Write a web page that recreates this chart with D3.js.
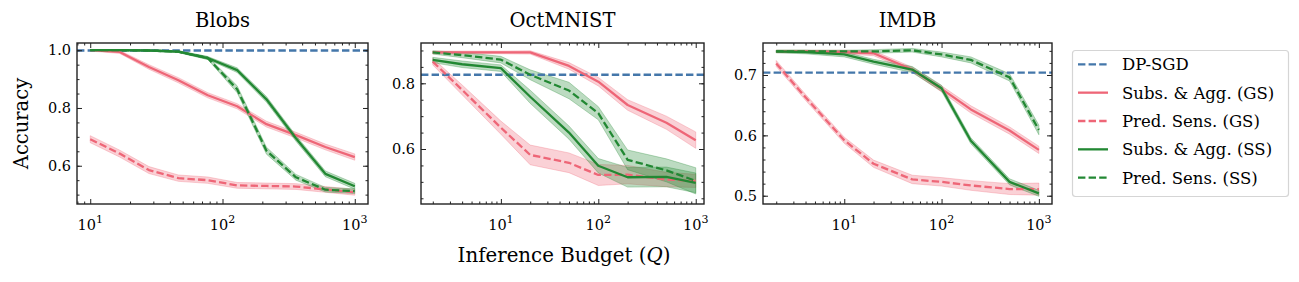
<!DOCTYPE html>
<html lang="en">
<head>
  <meta charset="UTF-8">
  <title>Accuracy vs Inference Budget</title>
  <script src="https://d3js.org/d3.v7.min.js"></script>
  <style>
    body { margin: 0; background: #fff; }
    svg text { font-family: "DejaVu Serif", serif; fill: #000; }
  </style>
</head>
<body>
<script>
  // query budgets
  const blobsQ = [10, 16.7, 27.8, 46.4, 77.4, 129, 215, 359, 599, 1000]
  const budgetQ = [2, 4, 10, 20, 50, 100, 200, 500, 1000]

  // Blobs
  const blobsDpSgd = 0.999
  const blobsSubsAggGS = [1.0, 0.994, 0.942, 0.896, 0.844, 0.806, 0.744, 0.706, 0.665, 0.630]
  const blobsPredSensGS = [0.692, 0.642, 0.585, 0.557, 0.550, 0.532, 0.530, 0.528, 0.518, 0.508]
  const blobsSubsAggSS = [1.0, 1.0, 0.999, 0.995, 0.973, 0.931, 0.830, 0.695, 0.572, 0.529]
  const blobsPredSensSS = [1.0, 1.0, 0.999, 0.995, 0.973, 0.865, 0.652, 0.560, 0.517, 0.512]
  const blobsSubsAggGSErr = [0.003, 0.005, 0.008, 0.009, 0.009, 0.009, 0.010, 0.010, 0.010, 0.011]
  const blobsPredSensGSErr = [0.012, 0.012, 0.012, 0.011, 0.011, 0.010, 0.010, 0.010, 0.010, 0.010]
  const blobsSubsAggSSErr = [0.001, 0.001, 0.002, 0.003, 0.005, 0.008, 0.010, 0.010, 0.010, 0.010]
  const blobsPredSensSSErr = [0.001, 0.001, 0.002, 0.003, 0.005, 0.012, 0.012, 0.010, 0.008, 0.008]

  // OctMNIST
  const octDpSgd = 0.826
  const octSubsAggGS = [0.894, 0.894, 0.894, 0.894, 0.853, 0.805, 0.734, 0.680, 0.627]
  const octPredSensGS = [0.866, 0.780, 0.665, 0.582, 0.558, 0.521, 0.522, 0.507, 0.503]
  const octSubsAggSS = [0.871, 0.858, 0.846, 0.759, 0.650, 0.549, 0.514, 0.515, 0.497]
  const octPredSensSS = [0.894, 0.886, 0.872, 0.826, 0.778, 0.709, 0.567, 0.535, 0.503]
  const octSubsAggGSErr = [0.004, 0.004, 0.004, 0.005, 0.010, 0.013, 0.016, 0.020, 0.025]
  const octPredSensGSErr = [0.010, 0.015, 0.020, 0.030, 0.030, 0.032, 0.028, 0.022, 0.020]
  const octSubsAggSSErr = [0.008, 0.010, 0.010, 0.020, 0.020, 0.022, 0.030, 0.030, 0.030]
  const octPredSensSSErr = [0.005, 0.008, 0.010, 0.015, 0.025, 0.020, 0.030, 0.035, 0.040]

  // IMDB
  const imdbDpSgd = 0.704
  const imdbSubsAggGS = [0.739, 0.739, 0.738, 0.736, 0.709, 0.677, 0.643, 0.608, 0.576]
  const imdbPredSensGS = [0.719, 0.663, 0.592, 0.553, 0.527, 0.523, 0.517, 0.511, 0.511]
  const imdbSubsAggSS = [0.739, 0.738, 0.734, 0.722, 0.709, 0.678, 0.591, 0.523, 0.504]
  const imdbPredSensSS = [0.739, 0.739, 0.739, 0.739, 0.741, 0.734, 0.725, 0.696, 0.609]
  const imdbSubsAggGSErr = [0.002, 0.002, 0.003, 0.004, 0.004, 0.005, 0.006, 0.006, 0.006]
  const imdbPredSensGSErr = [0.005, 0.005, 0.005, 0.006, 0.007, 0.007, 0.008, 0.009, 0.010]
  const imdbSubsAggSSErr = [0.002, 0.003, 0.004, 0.004, 0.005, 0.005, 0.005, 0.005, 0.005]
  const imdbPredSensSSErr = [0.002, 0.002, 0.002, 0.003, 0.003, 0.004, 0.005, 0.006, 0.008]

  const legendLabels = ['DP-SGD', 'Subs. & Agg. (GS)', 'Pred. Sens. (GS)', 'Subs. & Agg. (SS)', 'Pred. Sens. (SS)']

  const blue = '#4477AA', red = '#EE6677', green = '#228833'
  const dash = '7.4,3.2'
  const lw = 2.3

  const panels = [
    { title: 'Blobs', q: blobsQ, dp: blobsDpSgd,
      series: [blobsSubsAggGS, blobsPredSensGS, blobsSubsAggSS, blobsPredSensSS],
      errs: [blobsSubsAggGSErr, blobsPredSensGSErr, blobsSubsAggSSErr, blobsPredSensSSErr],
      left: 77, right: 368, xdom: [0.9, 3.1], ydom: [0.4675, 1.025],
      yticks: [0.6, 0.8, 1.0], ystep: 0.05 },
    { title: 'OctMNIST', q: budgetQ, dp: octDpSgd,
      series: [octSubsAggGS, octPredSensGS, octSubsAggSS, octPredSensSS],
      errs: [octSubsAggGSErr, octPredSensGSErr, octSubsAggSSErr, octPredSensSSErr],
      left: 421, right: 704, xdom: [0.18, 3.085], ydom: [0.4326, 0.9227],
      yticks: [0.6, 0.8], ystep: 0.05 },
    { title: 'IMDB', q: budgetQ, dp: imdbDpSgd,
      series: [imdbSubsAggGS, imdbPredSensGS, imdbSubsAggSS, imdbPredSensSS],
      errs: [imdbSubsAggGSErr, imdbPredSensGSErr, imdbSubsAggSSErr, imdbPredSensSSErr],
      left: 763, right: 1052, xdom: [0.165, 3.135], ydom: [0.4863, 0.753],
      yticks: [0.5, 0.6, 0.7], ystep: 0.02 },
  ]

  const styles = [
    { color: red, dash: null },
    { color: red, dash: dash },
    { color: green, dash: null },
    { color: green, dash: dash },
  ]

  const plotTop = 43, plotBottom = 204

  const svg = d3.select('body').append('svg')
    .attr('width', 1299)
    .attr('height', 282)

  panels.forEach(p => {
    const x = d3.scaleLog()
      .domain([Math.pow(10, p.xdom[0]), Math.pow(10, p.xdom[1])])
      .range([p.left, p.right])
    const y = d3.scaleLinear().domain(p.ydom).range([plotBottom, plotTop])

    const g = svg.append('g')

    const clipId = 'clip-' + p.title
    svg.append('clipPath').attr('id', clipId)
      .append('rect')
      .attr('x', p.left).attr('y', plotTop)
      .attr('width', p.right - p.left).attr('height', plotBottom - plotTop)

    const plot = g.append('g').attr('clip-path', `url(#${clipId})`)

    // bands first (matplotlib puts fills below lines)
    p.series.forEach((s, i) => {
      const rows = p.q.map((q, j) => ({ q: q, lo: s[j] - p.errs[i][j], hi: s[j] + p.errs[i][j] }))
      const area = d3.area()
        .x(d => x(d.q))
        .y0(d => y(d.lo))
        .y1(d => y(d.hi))
      plot.append('path')
        .attr('d', area(rows))
        .attr('fill', styles[i].color)
        .attr('fill-opacity', 0.3)
        .attr('stroke', styles[i].color)
        .attr('stroke-opacity', 0.3)
        .attr('stroke-width', 1)
    })

    // DP-SGD baseline
    plot.append('line')
      .attr('x1', p.left).attr('x2', p.right)
      .attr('y1', y(p.dp)).attr('y2', y(p.dp))
      .attr('stroke', blue)
      .attr('stroke-width', lw)
      .attr('stroke-dasharray', dash)

    p.series.forEach((s, i) => {
      const line = d3.line()
        .x((d, j) => x(p.q[j]))
        .y(d => y(d))
      plot.append('path')
        .attr('d', line(s))
        .attr('fill', 'none')
        .attr('stroke', styles[i].color)
        .attr('stroke-width', lw)
        .attr('stroke-dasharray', styles[i].dash)
        .attr('stroke-linejoin', 'round')
    })

    // ticks, inward on all four sides
    const xMajor = [1, 10, 100, 1000].filter(v => v >= x.domain()[0] && v <= x.domain()[1])
    const xMinor = []
    ;[1, 10, 100, 1000].forEach(dec => {
      for (let k = 2; k <= 9; k++) {
        const v = dec * k
        if (v >= x.domain()[0] && v <= x.domain()[1]) xMinor.push(v)
      }
    })
    const yMinor = d3.range(Math.ceil(p.ydom[0] / p.ystep), Math.floor(p.ydom[1] / p.ystep) + 1)
      .map(k => +(k * p.ystep).toFixed(3))

    const tickStyle = sel => {
      sel.select('.domain').remove()
      sel.selectAll('line').attr('stroke', '#222').attr('stroke-width', 1)
    }

    g.append('g').attr('transform', `translate(0,${plotBottom})`)
      .call(d3.axisBottom(x).tickValues(xMajor).tickSize(-5).tickFormat(''))
      .call(tickStyle)
    g.append('g').attr('transform', `translate(0,${plotBottom})`)
      .call(d3.axisBottom(x).tickValues(xMinor).tickSize(-2.5).tickFormat(''))
      .call(tickStyle)
    g.append('g').attr('transform', `translate(0,${plotTop})`)
      .call(d3.axisTop(x).tickValues(xMajor).tickSize(-5).tickFormat(''))
      .call(tickStyle)
    g.append('g').attr('transform', `translate(0,${plotTop})`)
      .call(d3.axisTop(x).tickValues(xMinor).tickSize(-2.5).tickFormat(''))
      .call(tickStyle)
    g.append('g').attr('transform', `translate(${p.left},0)`)
      .call(d3.axisLeft(y).tickValues(p.yticks).tickSize(-5).tickFormat(''))
      .call(tickStyle)
    g.append('g').attr('transform', `translate(${p.left},0)`)
      .call(d3.axisLeft(y).tickValues(yMinor).tickSize(-2.5).tickFormat(''))
      .call(tickStyle)
    g.append('g').attr('transform', `translate(${p.right},0)`)
      .call(d3.axisRight(y).tickValues(p.yticks).tickSize(-5).tickFormat(''))
      .call(tickStyle)
    g.append('g').attr('transform', `translate(${p.right},0)`)
      .call(d3.axisRight(y).tickValues(yMinor).tickSize(-2.5).tickFormat(''))
      .call(tickStyle)

    // frame
    g.append('rect')
      .attr('x', p.left).attr('y', plotTop)
      .attr('width', p.right - p.left).attr('height', plotBottom - plotTop)
      .attr('fill', 'none')
      .attr('stroke', '#222')
      .attr('stroke-width', 1.4)

    // tick labels
    xMajor.forEach(v => {
      const t = g.append('text')
        .attr('x', x(v))
        .attr('y', 230)
        .attr('text-anchor', 'middle')
        .attr('font-size', 14.5)
      t.append('tspan').text('10')
      t.append('tspan').attr('dy', -7).attr('font-size', 11).text(Math.round(Math.log10(v)))
    })
    p.yticks.forEach(v => {
      g.append('text')
        .attr('x', p.left - 6)
        .attr('y', y(v))
        .attr('dy', '0.36em')
        .attr('text-anchor', 'end')
        .attr('font-size', 14.5)
        .text(v.toFixed(1))
    })

    g.append('text')
      .attr('x', (p.left + p.right) / 2)
      .attr('y', 27)
      .attr('text-anchor', 'middle')
      .attr('font-size', 19.5)
      .text(p.title)
  })

  svg.append('text')
    .attr('transform', `translate(28,123.5) rotate(-90)`)
    .attr('text-anchor', 'middle')
    .attr('font-size', 19.5)
    .text('Accuracy')

  const xl = svg.append('text')
    .attr('x', 564)
    .attr('y', 261.5)
    .attr('text-anchor', 'middle')
    .attr('font-size', 19.8)
  xl.append('tspan').text('Inference Budget (')
  xl.append('tspan').attr('font-style', 'italic').text('Q')
  xl.append('tspan').text(')')

  // legend
  const legend = svg.append('g')
  legend.append('rect')
    .attr('x', 1072.5).attr('y', 50.5)
    .attr('width', 216).attr('height', 146)
    .attr('rx', 3)
    .attr('fill', '#fff')
    .attr('stroke', '#d5d5d5')
    .attr('stroke-width', 1.2)

  const legendStyles = [{ color: blue, dash: dash }].concat(styles)
  legendLabels.forEach((label, i) => {
    const ly = 64.3 + i * 28.35
    legend.append('line')
      .attr('x1', 1078).attr('x2', 1108)
      .attr('y1', ly).attr('y2', ly)
      .attr('stroke', legendStyles[i].color)
      .attr('stroke-width', lw)
      .attr('stroke-dasharray', legendStyles[i].dash)
    legend.append('text')
      .attr('x', 1122)
      .attr('y', ly)
      .attr('dy', '0.36em')
      .attr('font-size', 16.5)
      .text(label)
  })
</script>
</body>
</html>
